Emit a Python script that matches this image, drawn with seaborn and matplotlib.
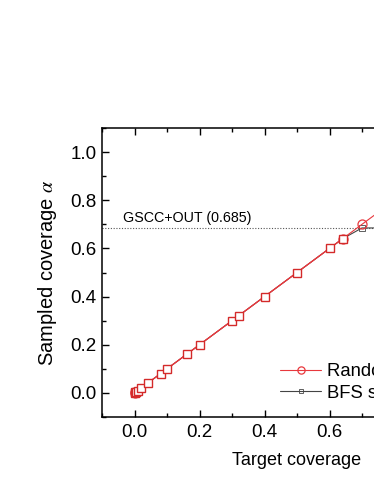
import numpy as np
import pandas as pd
import matplotlib
matplotlib.use("Agg")
import matplotlib.pyplot as plt
import seaborn as sns
from matplotlib.ticker import MultipleLocator

# target coverage vs sampled coverage
bfs_x = [0.001, 0.003, 0.005, 0.01, 0.02, 0.04, 0.08, 0.1, 0.16, 0.2, 0.3, 0.32,
         0.4, 0.5, 0.6, 0.64, 0.7, 0.8, 0.9, 1.0]
bfs_y = [0.001, 0.003, 0.005, 0.01, 0.02, 0.04, 0.08, 0.1, 0.16, 0.2, 0.3, 0.32,
         0.4, 0.5, 0.6, 0.64, 0.685, 0.685, 0.685, 0.685]
sq_x = [0.001, 0.003, 0.005, 0.01, 0.02, 0.04, 0.08, 0.1, 0.16, 0.2, 0.3, 0.32,
        0.4, 0.5, 0.6, 0.64]
sq_y = [0.001, 0.003, 0.005, 0.01, 0.02, 0.04, 0.08, 0.1, 0.16, 0.2, 0.3, 0.32,
        0.4, 0.5, 0.6, 0.64]
rnd_x = [0.001, 0.003, 0.005, 0.64, 0.7, 0.8, 0.9, 1.0]
rnd_y = [0.001, 0.003, 0.005, 0.64, 0.7, 0.8, 0.9, 1.0]
gscc_out = 0.685

sns.set_style("ticks", {"axes.edgecolor": "black", "xtick.color": "black",
                        "ytick.color": "black", "text.color": "black",
                        "axes.labelcolor": "black"})
plt.rcParams["font.family"] = ["Liberation Sans", "DejaVu Sans"]
plt.rcParams["mathtext.fontset"] = "stix"

fig = plt.figure(figsize=(3.74, 4.84), dpi=100)
ax = fig.add_axes([102 / 374, 67 / 484, 390 / 374, 289 / 484])

red = "#e8383d"
sns.lineplot(x=bfs_x, y=bfs_y, ax=ax, color="#444444", lw=0.8, marker="s", ms=4,
             mfc="none", mec="#444444", mew=0.6, label="BFS sampling", zorder=3)
sns.lineplot(x=rnd_x, y=rnd_y, ax=ax, color=red, lw=0.8, marker="o", ms=6.5,
             mfc="none", mec=red, mew=0.9, label="Random sampling", zorder=4)
sns.lineplot(x=sq_x, y=sq_y, ax=ax, color=red, lw=0.8, marker="s", ms=6,
             mfc="white", mec="#d42a2a", mew=1.0, legend=False, zorder=5)

ax.axhline(gscc_out, color="#555555", lw=0.8, ls=(0, (1, 1.5)), zorder=1)
ax.text(-0.036, 0.71, "GSCC+OUT (0.685)", fontsize=10.3)

ax.set_xlim(-0.1, 1.1)
ax.set_ylim(-0.1, 1.1)
ax.xaxis.set_major_locator(MultipleLocator(0.2))
ax.xaxis.set_minor_locator(MultipleLocator(0.1))
ax.yaxis.set_major_locator(MultipleLocator(0.2))
ax.yaxis.set_minor_locator(MultipleLocator(0.1))
ax.tick_params(which="both", direction="in", top=True, right=True, width=1,
               labelsize=13.5)
ax.tick_params(which="major", length=5, pad=5)
ax.tick_params(axis="y", which="major", pad=4)
ax.tick_params(which="minor", length=3)
for s in ax.spines.values():
    s.set_linewidth(1.1)

ax.set_xlabel("Target coverage", fontsize=13, labelpad=8)
ax.set_ylabel("Sampled coverage $\\alpha$", fontsize=14.5, labelpad=8)

h, l = ax.get_legend_handles_labels()
leg = ax.legend([h[1], h[0]], [l[1], l[0]], loc="lower left",
                bbox_to_anchor=(0.415, -0.005), frameon=False, fontsize=13.3,
                handlelength=2.2, handletextpad=0.3, labelspacing=0.25,
                markerscale=0.8)

fig.savefig("out.png", dpi=100)
